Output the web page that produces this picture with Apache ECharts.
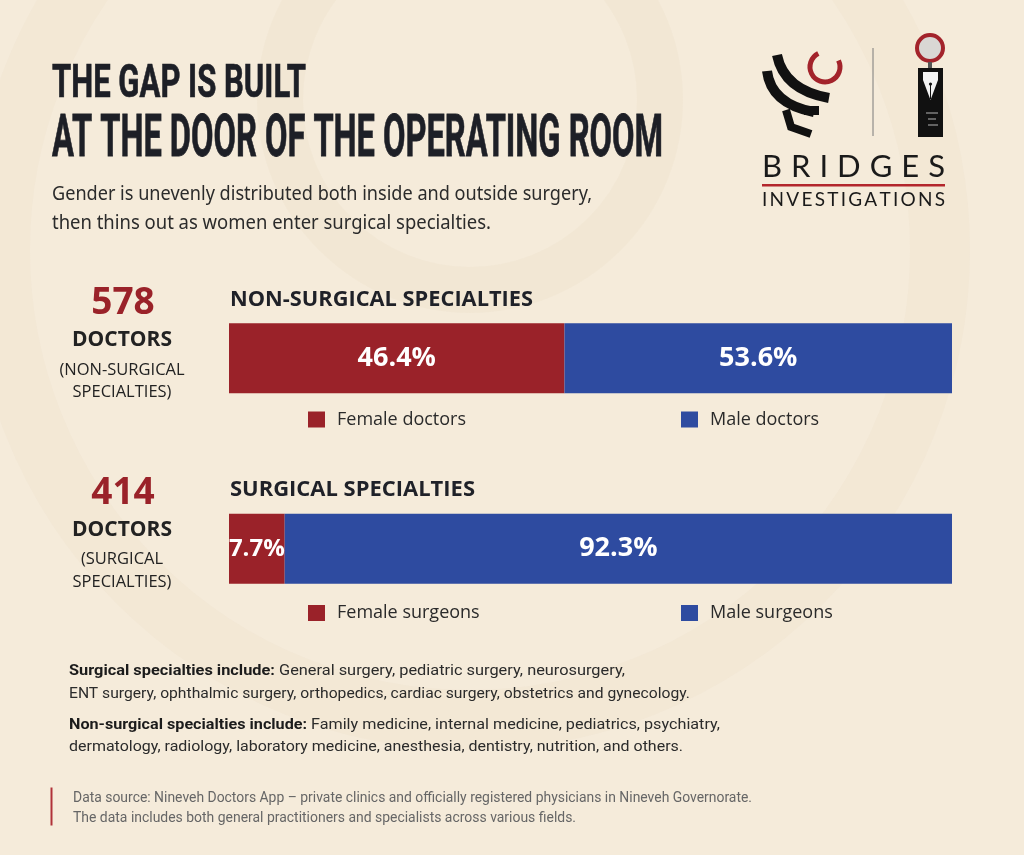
<!DOCTYPE html>
<html>
<head>
<meta charset="utf-8">
<script src="https://cdn.jsdelivr.net/npm/echarts@6/dist/echarts.min.js"></script>
<style>
  html, body { margin: 0; padding: 0; background: #f5ebda; }
  #chart { width: 1024px; height: 855px; }
</style>
</head>
<body>
<div id="chart"></div>
<script>
// ---------------- DATA ----------------
const categories = ['Non-surgical specialties', 'Surgical specialties'];
const totalDoctors = [578, 414];
const femaleShare = [46.4, 7.7];
const maleShare = [53.6, 92.3];
const femaleNames = ['Female doctors', 'Female surgeons'];
const maleNames = ['Male doctors', 'Male surgeons'];

const titleLines = ['THE GAP IS BUILT', 'AT THE DOOR OF THE OPERATING ROOM'];
const subtitleLines = [
  'Gender is unevenly distributed both inside and outside surgery,',
  'then thins out as women enter surgical specialties.'
];
const notes = [
  ['Surgical specialties include: ', 'General surgery, pediatric surgery, neurosurgery,'],
  ['', 'ENT surgery, ophthalmic surgery, orthopedics, cardiac surgery, obstetrics and gynecology.'],
  ['Non-surgical specialties include: ', 'Family medicine, internal medicine, pediatrics, psychiatry,'],
  ['', 'dermatology, radiology, laboratory medicine, anesthesia, dentistry, nutrition, and others.']
];
const sourceLines = [
  'Data source: Nineveh Doctors App – private clinics and officially registered physicians in Nineveh Governorate.',
  'The data includes both general practitioners and specialists across various fields.'
];

// ---------------- STYLE ----------------
const RED = '#9a2229';
const BLUE = '#2e4ba0';
const DARK = '#1d1f26';
const TEXT = '#2b2b2b';

const mctx = document.createElement('canvas').getContext('2d');
function measure(text, font) { mctx.font = font; return mctx.measureText(text).width; }

function fitText(text, font, x, y, width, fill, align, strokeW) {
  const s = width / measure(text, font);
  const style = { text: text, font: font, fill: fill, align: align || 'left', verticalAlign: 'middle' };
  if (strokeW) { style.stroke = fill; style.lineWidth = strokeW; }
  return { type: 'text', x: x, y: y, scaleX: s, z: 10, style: style };
}
function plainText(text, font, x, y, fill, align) {
  return { type: 'text', x: x, y: y, z: 10,
    style: { text: text, font: font, fill: fill, align: align || 'left', verticalAlign: 'middle' } };
}
function spacedText(text, font, x0, x1, y, fill) {
  const chars = text.split('');
  const ws = chars.map(c => measure(c, font));
  const total = ws.reduce((a, b) => a + b, 0);
  const gap = (x1 - x0 - total) / (chars.length - 1);
  const out = [];
  let x = x0;
  chars.forEach((c, i) => {
    out.push({ type: 'text', x: x, y: y, z: 10,
      style: { text: c, font: font, fill: fill, align: 'left', verticalAlign: 'middle' } });
    x += ws[i] + gap;
  });
  return out;
}
function mixedLine(boldPart, regPart, x, y, width, boldFont, regFont) {
  const wb = boldPart ? measure(boldPart, boldFont) : 0;
  const wr = measure(regPart, regFont);
  const s = width / (wb + wr);
  const out = [];
  if (boldPart) out.push({ type: 'text', x: x, y: y, scaleX: s, z: 10,
    style: { text: boldPart, font: boldFont, fill: '#1b1b1b', align: 'left', verticalAlign: 'middle' } });
  out.push({ type: 'text', x: x + wb * s, y: y, scaleX: s, z: 10,
    style: { text: regPart, font: regFont, fill: TEXT, align: 'left', verticalAlign: 'middle' } });
  return out;
}

// ---------------- GRAPHICS ----------------
const g = [];
// faint decorative rings
g.push({ type: 'circle', z: 0, shape: { cx: 470, cy: 100, r: 190 },
  style: { fill: 'none', stroke: 'rgba(225,207,180,0.13)', lineWidth: 46 } });
g.push({ type: 'circle', z: 0, shape: { cx: 470, cy: 250, r: 470 },
  style: { fill: 'none', stroke: 'rgba(225,207,180,0.10)', lineWidth: 60 } });

// Title (condensed display look via horizontal fit)
const titleFontA = 'bold 46px Roboto';
const titleFontB = 'bold 59px Roboto';
g.push(fitText(titleLines[0], titleFontA, 52, 85, 254, DARK, 'left', 0.7));
g.push(fitText(titleLines[1], titleFontB, 52, 141.5, 611, DARK, 'left', 0.8));

// Subtitle
const subFont = '19px "Noto Sans"';
g.push(fitText(subtitleLines[0], subFont, 52, 194.5, 540, TEXT));
g.push(fitText(subtitleLines[1], subFont, 52, 223.5, 439, TEXT));

// Left stats + section headers
const statY = [[303.5, 340.5, 370, 392.5], [493.5, 530, 559.5, 582.5]];
const headY = [300.5, 490.5];
const headW = [303, 245];
categories.forEach((cat, i) => {
  const ys = statY[i];
  g.push(plainText(String(totalDoctors[i]), 'bold 37px "Open Sans"', 123, ys[0], RED, 'center'));
  g.push(plainText('DOCTORS', 'bold 21px "Open Sans"', 122, ys[1], '#222', 'center'));
  const words = cat.toUpperCase().split(' ');
  g.push(plainText('(' + words[0], '16.5px "Open Sans"', 122, ys[2], '#222', 'center'));
  g.push(plainText(words[1] + ')', '16.5px "Open Sans"', 122, ys[3], '#222', 'center'));
  g.push(fitText(cat.toUpperCase(), 'bold 21px "Open Sans"', 230, headY[i], headW[i], '#1f2128'));
});

// Notes
const bF = 'bold 15.5px "Roboto"';
const rF = '15.5px "Roboto"';
const noteY = [671, 693.7, 725.5, 747.3];
const noteW = [556, 621, 651, 614];
notes.forEach((n, i) => {
  mixedLine(n[0], n[1], 69, noteY[i], noteW[i], bF, rF).forEach(e => g.push(e));
});

// Source footer
g.push({ type: 'rect', z: 10, shape: { x: 50.5, y: 787.5, width: 2, height: 38 }, style: { fill: '#b0323a' } });
g.push(fitText(sourceLines[0], '15px "Roboto"', 73, 798.7, 679, '#666'));
g.push(fitText(sourceLines[1], '15px "Roboto"', 73, 818, 503, '#666'));

// Logo
// left mark: curved black bands
g.push({ type: 'bezierCurve', z: 10, shape: { x1: 777, y1: 55, cpx1: 784, cpy1: 90, x2: 829, y2: 98 },
  style: { stroke: '#111', lineWidth: 10, fill: 'none', lineCap: 'butt' } });
g.push({ type: 'bezierCurve', z: 10, shape: { x1: 767, y1: 71, cpx1: 771, cpy1: 104, x2: 814, y2: 112 },
  style: { stroke: '#111', lineWidth: 10, fill: 'none', lineCap: 'butt' } });
g.push({ type: 'polyline', z: 10, shape: { points: [[786, 110], [791, 127], [811, 134]] },
  style: { stroke: '#111', lineWidth: 8, fill: 'none', lineJoin: 'miter' } });
g.push({ type: 'rect', z: 10, shape: { x: 804, y: 106, width: 15, height: 9 }, style: { fill: '#111' } });
g.push({ type: 'arc', z: 10, shape: { cx: 825, cy: 67, r: 15, startAngle: -0.45, endAngle: 4.25, clockwise: true },
  style: { stroke: '#a3232b', lineWidth: 5, fill: 'none' } });
// divider
g.push({ type: 'line', z: 10, shape: { x1: 873, y1: 48, x2: 873, y2: 136 }, style: { stroke: '#7a7a7a', lineWidth: 1 } });
// right mark: pen in black plate
g.push({ type: 'circle', z: 10, shape: { cx: 930, cy: 48, r: 13 }, style: { fill: '#d9d7d4', stroke: '#a3232b', lineWidth: 4 } });
g.push({ type: 'rect', z: 10, shape: { x: 928, y: 62, width: 4, height: 6 }, style: { fill: '#555' } });
g.push({ type: 'rect', z: 10, shape: { x: 918, y: 68, width: 25, height: 69 }, style: { fill: '#111' } });
g.push({ type: 'polygon', z: 11, shape: { points: [[923, 72], [938, 72], [938, 80], [930.5, 100], [923, 80]] },
  style: { fill: '#f4f4f4' } });
g.push({ type: 'line', z: 12, shape: { x1: 930.5, y1: 84, x2: 930.5, y2: 99 }, style: { stroke: '#111', lineWidth: 1 } });
g.push({ type: 'circle', z: 12, shape: { cx: 930.5, cy: 84, r: 1.6 }, style: { fill: '#111' } });
[[926, 113, 12], [928, 119, 8], [928, 125, 10]].forEach(p => {
  g.push({ type: 'line', z: 12, shape: { x1: p[0], y1: p[1], x2: p[0] + p[2], y2: p[1] }, style: { stroke: '#ddd', lineWidth: 0.8 } });
});
// wordmark
spacedText('BRIDGES', '31px Lato', 762, 945, 166.5, '#1a1a1a').forEach(e => g.push(e));
g.push({ type: 'rect', z: 10, shape: { x: 762, y: 184, width: 183, height: 2.5 }, style: { fill: '#b3262c' } });
spacedText('INVESTIGATIONS', '19px Lato', 762, 945, 200, '#1a1a1a').forEach(e => g.push(e));

// ---------------- SERIES ----------------
function blank(i, v) { return categories.map((c, j) => (j === i ? v : '-')); }
function barLabel(size) {
  return { show: true, position: 'inside', color: '#ffffff', fontSize: size, fontWeight: 'bold',
    fontFamily: 'Open Sans', formatter: p => p.value + '%' };
}
const series = [];
categories.forEach((cat, i) => {
  series.push({ name: femaleNames[i], type: 'bar', stack: 'share', barWidth: 70,
    data: blank(i, femaleShare[i]), itemStyle: { color: RED },
    label: barLabel(femaleShare[i] < 10 ? 24 : 27), emphasis: { disabled: true } });
  series.push({ name: maleNames[i], type: 'bar', stack: 'share', barWidth: 70,
    data: blank(i, maleShare[i]), itemStyle: { color: BLUE },
    label: barLabel(27), emphasis: { disabled: true } });
});

const legendTop = [410.5, 604];
const legendLeft = [308, 681];
const legends = [];
categories.forEach((cat, i) => {
  [femaleNames[i], maleNames[i]].forEach((name, k) => {
    legends.push({
      data: [name], left: legendLeft[k], top: legendTop[i], padding: 0,
      icon: 'rect', itemWidth: 17, itemHeight: 16, selectedMode: false,
      textStyle: { fontSize: 18, lineHeight: 18, color: '#2a2a2a', fontFamily: 'Open Sans', padding: [0, 0, 0, 7] }
    });
  });
});

const chart = echarts.init(document.getElementById('chart'));
chart.setOption({
  backgroundColor: '#f5ebda',
  animation: false,
  grid: { left: 229, right: 72, top: 263, bottom: 211 },
  xAxis: { type: 'value', min: 0, max: 100, show: false },
  yAxis: { type: 'category', data: categories, inverse: true, show: false },
  legend: legends,
  series: series,
  graphic: { elements: g }
});
</script>
</body>
</html>
